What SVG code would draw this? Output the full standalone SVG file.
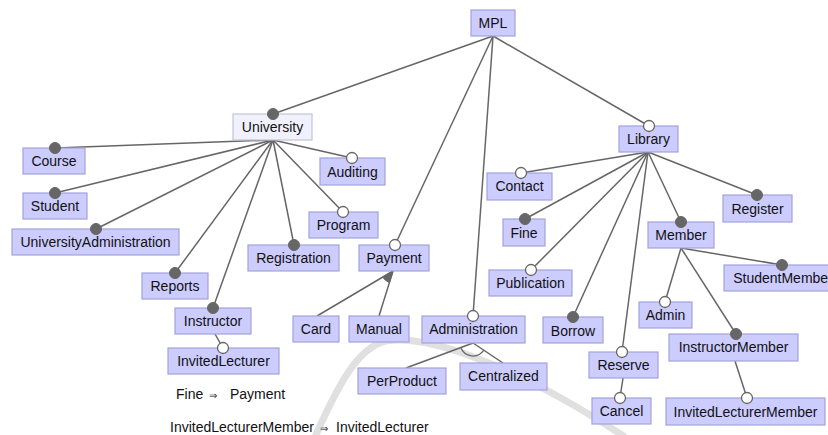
<svg xmlns="http://www.w3.org/2000/svg" width="828" height="435" viewBox="0 0 828 435">
<style>
.n rect{fill:#ccccff;stroke:#a2a2dc;stroke-width:1.2}
.n.root rect{fill:#f1f1fd;stroke:#c4c4d8}
.n text,.t{font-family:"Liberation Sans",Arial,sans-serif;font-size:14px;fill:#111;text-anchor:middle}
.t{text-anchor:start}
.c line{stroke:#666;stroke-width:1.5}
.f{fill:#666;stroke:#666;stroke-width:1}
.o{fill:#fff;stroke:#666;stroke-width:1.3}
</style>
<rect width="828" height="435" fill="#fff"/>
<path d="M315 437 C338 385 358 347 386 341 C430 334 520 368 625 437" fill="none" stroke="#e0e0e0" stroke-width="7"/>
<g id="connectors" class="c">
<line x1="493" y1="36" x2="273" y2="114"/>
<line x1="493" y1="36" x2="395" y2="245"/>
<line x1="493" y1="36" x2="473" y2="316"/>
<line x1="493" y1="36" x2="649" y2="126"/>
<line x1="273" y1="140" x2="55" y2="148"/>
<line x1="273" y1="140" x2="55" y2="193"/>
<line x1="273" y1="140" x2="96" y2="229"/>
<line x1="273" y1="140" x2="175" y2="273"/>
<line x1="273" y1="140" x2="213" y2="308"/>
<line x1="273" y1="140" x2="294" y2="245"/>
<line x1="273" y1="140" x2="343" y2="212"/>
<line x1="273" y1="140" x2="352" y2="158"/>
<line x1="215" y1="334" x2="223" y2="348"/>
<line x1="393" y1="271" x2="317" y2="316"/>
<line x1="393" y1="271" x2="379" y2="316"/>
<line x1="473" y1="343" x2="406" y2="368"/>
<line x1="473" y1="343" x2="503" y2="363"/>
<line x1="648" y1="152" x2="521" y2="173"/>
<line x1="648" y1="152" x2="525" y2="219"/>
<line x1="648" y1="152" x2="531" y2="270"/>
<line x1="648" y1="152" x2="573" y2="317"/>
<line x1="648" y1="152" x2="622" y2="352"/>
<line x1="648" y1="152" x2="681" y2="222"/>
<line x1="648" y1="152" x2="757" y2="195"/>
<line x1="681" y1="248" x2="665" y2="302"/>
<line x1="681" y1="248" x2="736" y2="334"/>
<line x1="681" y1="248" x2="782" y2="265"/>
<line x1="623" y1="378" x2="620" y2="398"/>
<line x1="735" y1="361" x2="747" y2="398"/>
<path class="f" d="M393 271 L382.7 277.1 A12 12 0 0 0 389.4 282.5 Z"/>
<path d="M460.8 347.6 A13 13 0 0 0 483.8 350.2" fill="none" stroke="#666" stroke-width="1.3"/>
</g>
<g id="MPL" class="n"><rect x="471" y="10" width="44" height="26"/><text x="493" y="28">MPL</text></g>
<g id="University" class="n root"><rect x="233" y="114" width="79" height="26"/><text x="272.5" y="132">University</text><circle class="f" cx="273" cy="114" r="5.5"/></g>
<g id="Course" class="n"><rect x="23" y="148" width="62" height="26"/><text x="54" y="166">Course</text><circle class="f" cx="55" cy="148" r="5.5"/></g>
<g id="Student" class="n"><rect x="23" y="193" width="64" height="26"/><text x="55" y="211">Student</text><circle class="f" cx="55" cy="193" r="5.5"/></g>
<g id="UniversityAdministration" class="n"><rect x="12" y="229" width="167" height="26"/><text x="95.5" y="247">UniversityAdministration</text><circle class="f" cx="96" cy="229" r="5.5"/></g>
<g id="Reports" class="n"><rect x="142" y="273" width="66" height="26"/><text x="175" y="291">Reports</text><circle class="f" cx="175" cy="273" r="5.5"/></g>
<g id="Instructor" class="n"><rect x="175" y="308" width="76" height="26"/><text x="213" y="326">Instructor</text><circle class="f" cx="213" cy="308" r="5.5"/></g>
<g id="InvitedLecturer" class="n"><rect x="168" y="348" width="111" height="26"/><text x="223.5" y="366">InvitedLecturer</text><circle class="o" cx="223" cy="348" r="5.5"/></g>
<g id="Registration" class="n"><rect x="248" y="245" width="91" height="26"/><text x="293.5" y="263">Registration</text><circle class="f" cx="294" cy="245" r="5.5"/></g>
<g id="Program" class="n"><rect x="309" y="212" width="69" height="26"/><text x="343.5" y="230">Program</text><circle class="o" cx="343" cy="212" r="5.5"/></g>
<g id="Auditing" class="n"><rect x="320" y="158" width="65" height="27"/><text x="352.5" y="177">Auditing</text><circle class="o" cx="352" cy="158" r="5.5"/></g>
<g id="Payment" class="n"><rect x="359" y="245" width="70" height="26"/><text x="394" y="263">Payment</text><circle class="o" cx="395" cy="245" r="5.5"/></g>
<g id="Card" class="n"><rect x="293" y="316" width="46" height="26"/><text x="316" y="334">Card</text></g>
<g id="Manual" class="n"><rect x="349" y="316" width="60" height="26"/><text x="379" y="334">Manual</text></g>
<g id="Administration" class="n"><rect x="422" y="316" width="103" height="27"/><text x="473.5" y="334">Administration</text><circle class="o" cx="473" cy="316" r="5.5"/></g>
<g id="PerProduct" class="n"><rect x="358" y="368" width="88" height="26"/><text x="402" y="386">PerProduct</text></g>
<g id="Centralized" class="n"><rect x="460" y="363" width="87" height="27"/><text x="503.5" y="381">Centralized</text></g>
<g id="Library" class="n"><rect x="619" y="126" width="59" height="26"/><text x="648.5" y="144">Library</text><circle class="o" cx="649" cy="126" r="5.5"/></g>
<g id="Contact" class="n"><rect x="487" y="173" width="65" height="27"/><text x="519.5" y="191">Contact</text><circle class="o" cx="521" cy="173" r="5.5"/></g>
<g id="Fine" class="n"><rect x="503" y="219" width="42" height="27"/><text x="524" y="238">Fine</text><circle class="f" cx="525" cy="219" r="5.5"/></g>
<g id="Publication" class="n"><rect x="489" y="270" width="83" height="26"/><text x="530.5" y="288">Publication</text><circle class="o" cx="531" cy="270" r="5.5"/></g>
<g id="Borrow" class="n"><rect x="543" y="317" width="60" height="26"/><text x="573" y="336">Borrow</text><circle class="f" cx="573" cy="317" r="5.5"/></g>
<g id="Reserve" class="n"><rect x="589" y="352" width="69" height="26"/><text x="623.5" y="370">Reserve</text><circle class="o" cx="622" cy="352" r="5.5"/></g>
<g id="Cancel" class="n"><rect x="592" y="398" width="59" height="26"/><text x="621.5" y="416">Cancel</text><circle class="o" cx="620" cy="398" r="5.5"/></g>
<g id="Member" class="n"><rect x="648" y="222" width="66" height="26"/><text x="681" y="240">Member</text><circle class="f" cx="681" cy="222" r="5.5"/></g>
<g id="Register" class="n"><rect x="723" y="195" width="69" height="27"/><text x="757.5" y="214">Register</text><circle class="f" cx="757" cy="195" r="5.5"/></g>
<g id="StudentMember" class="n"><rect x="724" y="265" width="118" height="26"/><text x="783" y="283">StudentMember</text><circle class="f" cx="782" cy="265" r="5.5"/></g>
<g id="Admin" class="n"><rect x="639" y="302" width="53" height="26"/><text x="665.5" y="320">Admin</text><circle class="o" cx="665" cy="302" r="5.5"/></g>
<g id="InstructorMember" class="n"><rect x="669" y="334" width="129" height="27"/><text x="733.5" y="352">InstructorMember</text><circle class="f" cx="736" cy="334" r="5.5"/></g>
<g id="InvitedLecturerMember" class="n"><rect x="666" y="398" width="159" height="27"/><text x="745.5" y="417">InvitedLecturerMember</text><circle class="o" cx="747" cy="398" r="5.5"/></g>
<g id="constraints">
<text class="t" x="176" y="399">Fine<tspan x="209" font-size="10">⇒</tspan><tspan x="230">Payment</tspan></text>
<text class="t" x="170" y="432">InvitedLecturerMember<tspan x="320" font-size="10">⇒</tspan><tspan x="336">InvitedLecturer</tspan></text>
</g>
</svg>
